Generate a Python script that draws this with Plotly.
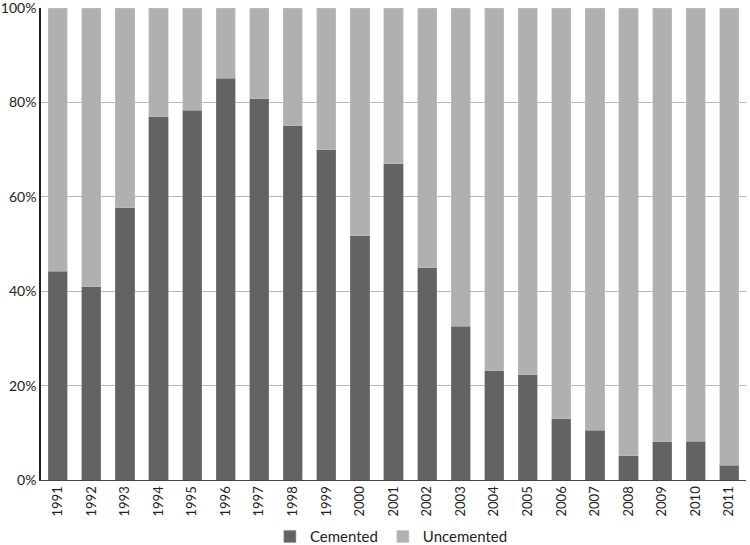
import plotly.graph_objects as go

years = [str(y) for y in range(1991, 2012)]
cemented = [44.2, 41.0, 57.7, 77.0, 78.3, 85.1, 80.8, 75.1, 70.0, 51.8, 67.0,
            45.0, 32.6, 23.1, 22.3, 13.0, 10.5, 5.1, 8.1, 8.2, 3.1]
uncemented = [55.8, 59.0, 42.3, 23.0, 21.7, 14.9, 19.2, 24.9, 30.0, 48.2, 33.0,
              55.0, 67.4, 76.9, 77.7, 87.0, 89.5, 94.9, 91.9, 91.8, 96.9]
y_ticks = [0, 20, 40, 60, 80, 100]
y_labels = ["0%", "20%", "40%", "60%", "80%", "100%"]

font = dict(family="Lato, Open Sans, Liberation Sans, sans-serif", size=14, color="#222222")

fig = go.Figure()
fig.add_trace(go.Bar(x=years, y=cemented, name="Cemented",
                     marker=dict(color="#636363", line=dict(color="#8a8a8a", width=0.5))))
fig.add_trace(go.Bar(x=years, y=uncemented, name="Uncemented",
                     marker=dict(color="#b0b0b0", line=dict(color="#c4c4c4", width=0.5))))

fig.update_layout(
    barmode="stack",
    bargap=0.43,
    width=750, height=545,
    margin=dict(l=41, r=4, t=8, b=65, autoexpand=False),
    paper_bgcolor="white", plot_bgcolor="white",
    font=font,
    showlegend=True,
    legend=dict(orientation="h", x=0.497, xanchor="center", y=-0.12, yanchor="middle",
                font=dict(size=15), traceorder="normal", itemwidth=30),
)
fig.update_xaxes(type="category", tickangle=-90, showline=True, linecolor="#444444",
                 linewidth=1.2, ticks="", tickfont=dict(size=13), automargin=False,
                 ticklabeloverflow="allow")
fig.update_yaxes(range=[0, 100.01], tickvals=y_ticks, ticktext=y_labels, showgrid=True,
                 gridcolor="#b8b8b8", gridwidth=1, showline=True, linecolor="#222222",
                 linewidth=1.5, ticks="", zeroline=False, tickfont=dict(size=14),
                 automargin=False, ticklabeloverflow="allow")

fig.write_html("out.html", config={"displayModeBar": False},
               post_script="document.body.style.margin='0';")
